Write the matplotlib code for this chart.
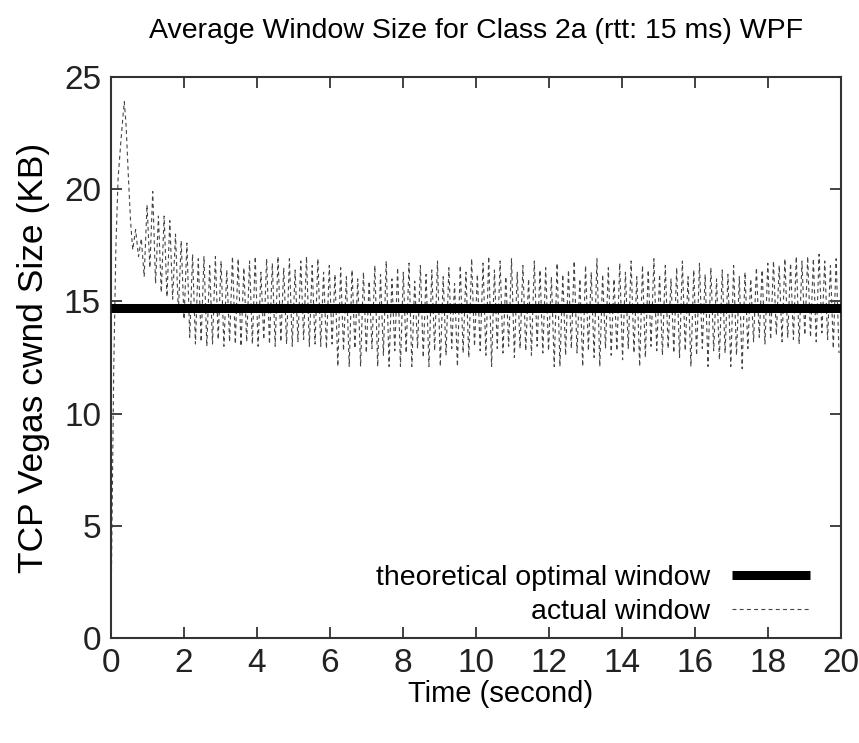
import matplotlib
matplotlib.use("Agg")
import matplotlib.pyplot as plt
import numpy as np

plt.rcParams['font.family'] = ['Liberation Sans', 'DejaVu Sans']

# theoretical optimal window (KB)
OPTIMAL_WINDOW = 14.7

# slow-start transient (time s, cwnd KB)
transient_t = [0.0, 0.04, 0.08, 0.14, 0.20, 0.27, 0.33, 0.37, 0.42, 0.48, 0.54, 0.60]
transient_v = [0.4, 6.0, 12.0, 17.5, 20.5, 22.0, 23.2, 23.9, 22.8, 20.6, 18.6, 17.3]

# after the transient the window saw-tooths: peak, trough, peak, ... every STEP seconds
T0 = 0.68
STEP = 0.078
peaks = [18.2, 17.8, 19.3, 19.9, 18.8, 18.8, 18.6, 18.0, 17.7,
         17.6, 17.1, 16.9, 17.0, 16.6, 17.0, 16.8, 16.4, 17.0, 16.9, 16.5,
         16.8, 17.0, 16.3, 16.9, 16.7, 17.0, 16.5, 16.9, 16.4, 16.8, 17.0, 16.6,
         16.9, 16.3, 16.6, 16.2, 16.5, 16.1, 16.4, 16.0, 16.3, 15.9,
         16.6, 16.2, 16.8, 16.0, 16.5, 16.3, 16.7, 15.9, 16.6, 16.2,
         16.4, 16.8, 16.1, 16.5, 15.8, 16.6, 16.3, 16.9, 16.2, 16.7,
         17.0, 16.4, 16.8, 16.1, 16.9, 16.3, 16.6, 16.0, 16.8, 16.4,
         16.5, 16.1, 16.7, 16.2, 16.4, 16.8, 16.0, 16.6, 16.3, 16.9,
         16.2, 16.5, 16.0, 16.7, 16.3, 16.8, 16.1, 16.6, 16.4, 16.9,
         16.2, 16.6, 16.0, 16.5, 16.8, 16.1, 16.4, 16.7, 16.2, 16.5,
         16.0, 16.4, 16.2, 16.6, 16.1, 16.3, 16.0, 16.5, 16.4, 16.7,
         16.8, 16.6, 16.9, 16.7, 17.0, 16.8, 17.0, 16.9, 17.1, 16.8, 16.6, 16.9]
troughs = [17.0, 16.1, 16.5, 15.8, 15.4, 15.2, 15.1, 14.5, 14.2,
           13.4, 13.1, 13.2, 13.0, 13.1, 13.3, 13.0, 13.2, 13.1, 13.0, 13.2,
           13.1, 13.0, 13.3, 13.1, 13.0, 13.2, 13.1, 13.0, 13.2, 13.3, 13.0, 13.1,
           13.0, 12.9, 13.1, 12.1, 12.8, 12.1, 12.9, 12.1, 12.7, 12.9,
           12.1, 12.6, 12.1, 12.8, 12.1, 12.7, 12.1, 12.9, 12.5, 12.1,
           12.8, 12.1, 12.6, 12.9, 12.1, 12.7, 12.5, 13.0, 12.8, 12.6,
           12.1, 12.9, 12.7, 13.0, 12.5, 12.9, 12.8, 12.6, 13.0, 12.7,
           12.8, 12.1, 12.1, 12.6, 12.9, 12.7, 12.1, 12.8, 12.5, 12.1,
           12.9, 12.6, 12.8, 12.4, 12.9, 12.7, 12.1, 12.5, 13.0, 12.8,
           12.6, 12.9, 12.7, 12.5, 12.8, 12.1, 12.6, 12.9, 12.1, 12.8,
           12.4, 12.7, 12.1, 12.6, 12.0, 12.9, 13.2, 13.4, 13.1, 13.3,
           13.5, 13.2, 13.4, 13.3, 13.1, 13.5, 13.4, 13.2, 13.6, 13.3, 12.9, 12.7]

extremes = []
for p, q in zip(peaks, troughs):
    extremes += [p, q]
ext_t = T0 + STEP * np.arange(len(extremes))

time = np.concatenate([transient_t, ext_t])
cwnd = np.concatenate([transient_v, extremes])

fig = plt.figure(figsize=(8.59, 7.43), dpi=100)
ax = fig.add_axes([0.129, 0.1413, 0.850, 0.7551])

ax.plot([0, 20], [OPTIMAL_WINDOW, OPTIMAL_WINDOW], color='black', lw=6.5,
        solid_capstyle='butt', label='theoretical optimal window', zorder=3)
ax.plot(time, cwnd, color='#444444', lw=0.8, linestyle=(0, (3.5, 3)),
        label='actual window', zorder=2)

ax.set_xlim(0, 20)
ax.set_ylim(0, 25)
ax.set_xticks(np.arange(0, 21, 2))
ax.set_yticks(np.arange(0, 26, 5))
ax.tick_params(direction='in', length=8, width=1.2, top=True, right=True,
               labelsize=24, pad=7, colors='#222222')
for s in ax.spines.values():
    s.set_linewidth(1.5)
    s.set_color('#333333')

ax.set_title('Average Window Size for Class 2a (rtt: 15 ms) WPF', fontsize=20.5, pad=28)
ax.set_xlabel('Time (second)', fontsize=21)
ax.xaxis.set_label_coords(0.534, -0.075)
ax.set_ylabel('TCP Vegas cwnd Size (KB)', fontsize=25.5, labelpad=10)

ax.legend(loc='lower right', frameon=False, markerfirst=False, fontsize=20.5,
          handlelength=2.75, handletextpad=0.75, labelspacing=0.28,
          borderaxespad=0.3, bbox_to_anchor=(0.985, -0.012))

fig.savefig('out.png', dpi=100)
